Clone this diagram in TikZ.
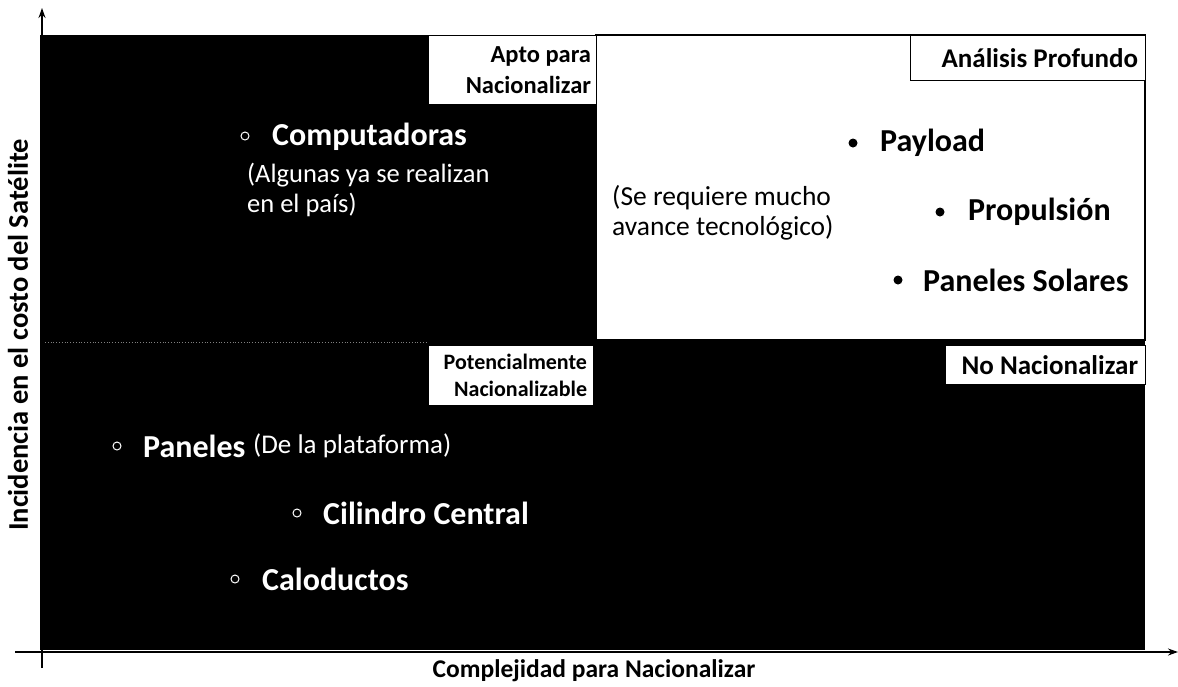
\documentclass[tikz,border=0pt]{standalone}
\usepackage{fontspec}
\setmainfont{Carlito}
\usetikzlibrary{arrows.meta}
\begin{document}
\begin{tikzpicture}[x=1pt,y=-1pt,
  axis/.style={line width=1.5pt,-{Stealth[length=10pt,width=7pt]}},
  tagbox/.style={draw=black,fill=white,line width=1.2pt,inner sep=0pt,anchor=north west},
  tagtext/.style={align=right,inner sep=0pt,anchor=east},
  item/.style={anchor=west,inner sep=0pt,font=\fontsize{32}{38}\selectfont\bfseries},
  itemw/.style={item,text=white},
  note/.style={anchor=west,inner sep=0pt,align=left},
  hollow/.style={circle,draw=white,line width=1pt,minimum size=8pt,inner sep=0pt},
  dot/.style={circle,fill=black,minimum size=9pt,inner sep=0pt}]
\useasboundingbox (0,0) rectangle (1178,686);
\fill[white] (0,0) rectangle (1178,686);
% quadrants
\fill[black] (40,35) rectangle (596,340);
\fill[black] (40,340) rectangle (1145,650);
\draw[line width=1.5pt,fill=white] (596,35) rectangle (1145,340);
\draw[gray,dotted,line width=0.8pt] (45,342) -- (428,342);
% quadrant tags
\node[tagbox,minimum width=168,minimum height=69] (aptobox) at (428,35) {};
\node[tagtext,font=\fontsize{24.5}{31}\selectfont\bfseries] (apto) at ([xshift=-6pt]aptobox.east) {Apto para\\Nacionalizar};
\node[tagbox,minimum width=235,minimum height=45] (analbox) at (910,35) {};
\node[tagtext,font=\fontsize{27}{32}\selectfont\bfseries] (anal) at ([xshift=-8pt]analbox.east) {Análisis Profundo};
\node[tagbox,minimum width=165,minimum height=60] (potbox) at (428,345) {};
\node[tagtext,font=\fontsize{22}{27}\selectfont\bfseries] (pot) at ([xshift=-7pt]potbox.east) {Potencialmente\\Nacionalizable};
\node[tagbox,minimum width=200,minimum height=39] (nonacbox) at (945,345) {};
\node[tagtext,font=\fontsize{27}{32}\selectfont\bfseries] (nonac) at ([xshift=-8pt]nonacbox.east) {No Nacionalizar};
% top-left
\node[hollow] (b1) at (245,136) {};
\node[itemw] (comp) at (272,137) {Computadoras};
\node[note,text=white,font=\fontsize{26.5}{30}\selectfont] (compn) at (247,190) {(Algunas ya se realizan\\en el país)};
% top-right
\node[dot] (b2) at (853,143) {};
\node[item] (pay) at (880,143) {Payload};
\node[dot] (b3) at (940,212) {};
\node[item] (prop) at (968,212) {Propulsión};
\node[dot] (b4) at (898,280) {};
\node[item] (pan) at (923,280) {Paneles Solares};
\node[note,font=\fontsize{27.5}{30}\selectfont] (req) at (612,213) {(Se requiere mucho\\avance tecnológico)};
% bottom-left
\node[hollow] (b5) at (117,446) {};
\node[itemw] (panp) at (143,446) {Paneles};
\node[note,text=white,font=\fontsize{27}{30}\selectfont] (panpn) at (253,446) {(De la plataforma)};
\node[hollow] (b6) at (297,513) {};
\node[itemw] (cil) at (323,513) {Cilindro Central};
\node[hollow] (b7) at (235,579) {};
\node[itemw] (calo) at (262,579) {Caloductos};
% axes
\coordinate (ybot) at (42,668);
\coordinate (ytop) at (42,8);
\coordinate (xl) at (15,652);
\coordinate (xr) at (1178,652);
\draw[axis] (ybot) -- (ytop);
\draw[axis] (xl) -- (xr);
\node[rotate=90,font=\fontsize{28.5}{32}\selectfont\bfseries] (ylab) at (18,335) {Incidencia en el costo del Satélite};
\node[font=\fontsize{25.5}{30}\selectfont\bfseries] (xlab) at (594,671) {Complejidad para Nacionalizar};
\end{tikzpicture}
\end{document}
